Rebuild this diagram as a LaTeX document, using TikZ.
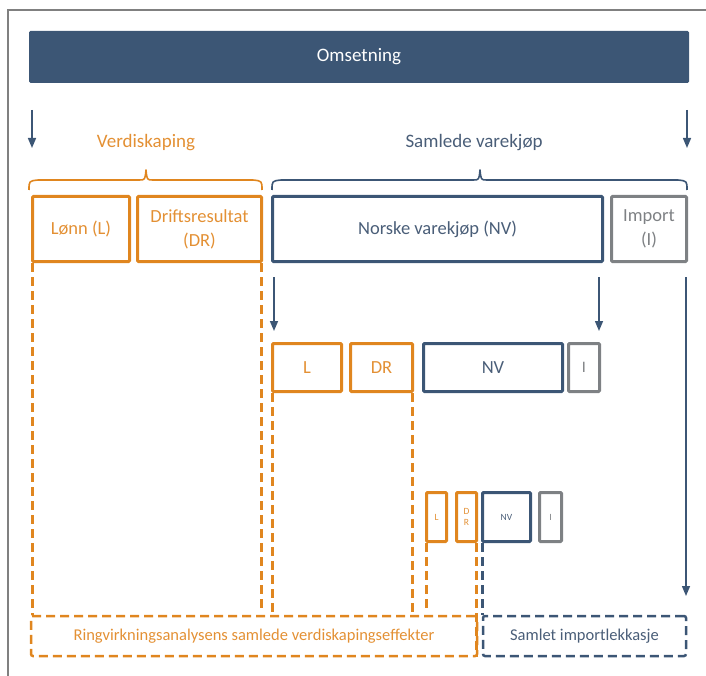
\documentclass[tikz,border=0pt]{standalone}
\usepackage{fontspec}
\setmainfont{Carlito}
\usetikzlibrary{arrows.meta}
\definecolor{dkblue}{HTML}{3C5675}
\definecolor{orng}{HTML}{E0861F}
\definecolor{orngtxt}{HTML}{E39034}
\definecolor{bltxt}{HTML}{4A5E78}
\definecolor{gry}{HTML}{7E8184}
\definecolor{frame}{HTML}{808080}
\begin{document}
\begin{tikzpicture}[x=1pt,y=-1pt,
  box/.style={draw, line width=3pt, rounded corners=1pt, inner sep=0pt, align=center, font=\fontsize{18.5}{24}\selectfont},
  obox/.style={box, draw=orng, text=orngtxt},
  bbox/.style={box, draw=dkblue, text=bltxt},
  gbox/.style={box, draw=gry, text=gry},
  tiny/.style={font=\fontsize{9.5}{11}\selectfont},
  odash/.style={draw=orng, line width=2.5pt, dash pattern=on 9pt off 5pt},
  bdash/.style={draw=dkblue, line width=2.5pt, dash pattern=on 9pt off 5pt},
  conn/.style={draw=dkblue, line width=1.5pt, -{Triangle[length=10pt,width=8pt]}},
  brace/.style={line width=1.6pt, line join=round}
]
\useasboundingbox (0,0) rectangle (706,676);
% frame
\draw[frame, line width=2pt] (8,676) -- (8,10) -- (706,10);
% top bar
\node[fill=dkblue, rounded corners=1.5pt, minimum width=660pt, minimum height=52pt, inner sep=0pt,
      text=white, font=\fontsize{19}{24}\selectfont] (oms) at (359,57) {Omsetning};
% top arrows
\coordinate (a1s) at (32,110); \coordinate (a1e) at (32,148);
\coordinate (a2s) at (687,110); \coordinate (a2e) at (687,148);
\draw[conn] (a1s) -- (a1e);
\draw[conn] (a2s) -- (a2e);
% headings
\node[text=orngtxt, font=\fontsize{19}{24}\selectfont] (verd) at (146,143) {Verdiskaping};
\node[text=bltxt, font=\fontsize{19}{24}\selectfont] (samv) at (474,143) {Samlede varekjøp};
% braces
\draw[brace, orng] (29,190) .. controls (29,181) .. (38,180) -- (139,180)
   .. controls (145,180) .. (146,170) .. controls (147,180) .. (153,180) -- (253,180)
   .. controls (262,181) .. (262,190);
\draw[brace, dkblue] (272,190) .. controls (272,181) .. (281,180) -- (473,180)
   .. controls (479,180) .. (480,170) .. controls (481,180) .. (487,180) -- (678,180)
   .. controls (687,181) .. (687,190);
% row 1
\node[obox, minimum width=97pt, minimum height=65pt] (lonn) at (81,229) {Lønn (L)};
\node[obox, minimum width=124pt, minimum height=65pt] (dr) at (199.5,229) {Driftsresultat\\(DR)};
\node[bbox, minimum width=330pt, minimum height=65pt] (nv) at (437.5,229) {Norske varekjøp (NV)};
\node[gbox, minimum width=75pt, minimum height=65pt] (imp) at (649,229) {Import\\(I)};
% row 2 arrows
\coordinate (b1s) at (274,277); \coordinate (b1e) at (274,331);
\coordinate (b2s) at (599,277); \coordinate (b2e) at (599,331);
\coordinate (b3s) at (686,277); \coordinate (b3e) at (686,596);
\draw[conn] (b1s) -- (b1e);
\draw[conn] (b2s) -- (b2e);
\draw[conn] (b3s) -- (b3e);
% row 2
\node[obox, minimum width=69pt, minimum height=48pt] (l2) at (307,367.5) {L};
\node[obox, minimum width=62pt, minimum height=48pt] (dr2) at (381.5,367.5) {DR};
\node[bbox, minimum width=139pt, minimum height=48pt] (nv2) at (493,367.5) {NV};
\node[gbox, minimum width=31pt, minimum height=48pt, font=\fontsize{16}{20}\selectfont] (i2) at (584,367.5) {I};
% row 3
\node[obox, tiny, minimum width=20pt, minimum height=49pt] (l3) at (436.5,517) {L};
\node[obox, tiny, minimum width=20pt, minimum height=49pt] (dr3) at (466.5,517) {D\\R};
\node[bbox, tiny, minimum width=48pt, minimum height=49pt] (nv3) at (506.5,517) {NV};
\node[gbox, tiny, minimum width=22pt, minimum height=49pt] (i3) at (550.5,517) {I};
% bottom boxes
\node[odash, rounded corners=2pt, minimum width=446pt, minimum height=40pt, inner sep=0pt,
      text=orngtxt, font=\fontsize{16.5}{19}\selectfont] (ringv) at (254,636)
      {Ringvirkningsanalysens samlede verdiskapingseffekter};
\node[bdash, rounded corners=2pt, minimum width=203pt, minimum height=40pt, inner sep=0pt,
      text=bltxt, font=\fontsize{16.5}{19}\selectfont] (lekk) at (584.5,636)
      {Samlet importlekkasje};
% dashed verticals
\draw[odash] ([xshift=1.5pt]lonn.south west) -- ([xshift=1.5pt]lonn.south west |- ringv.north);
\draw[odash] ([xshift=-1.5pt]dr.south east) -- ([xshift=-1.5pt,yshift=3pt]dr.south east |- ringv.north);
\draw[odash] ([xshift=1.5pt]l2.south west) -- ([xshift=1.5pt,yshift=3pt]l2.south west |- ringv.north);
\draw[odash] ([xshift=-1.5pt]dr2.south east) -- ([xshift=-1.5pt,yshift=3pt]dr2.south east |- ringv.north);
\draw[odash] ([xshift=1.5pt]l3.south west) -- ([xshift=1.5pt,yshift=3pt]l3.south west |- ringv.north);
\draw[odash] ([xshift=-1.5pt]dr3.south east) -- ([xshift=-1.5pt]dr3.south east |- ringv.south);
\draw[bdash] ([xshift=1.5pt]nv3.south west) -- ([xshift=1.5pt]nv3.south west |- lekk.north);
\end{tikzpicture}
\end{document}
